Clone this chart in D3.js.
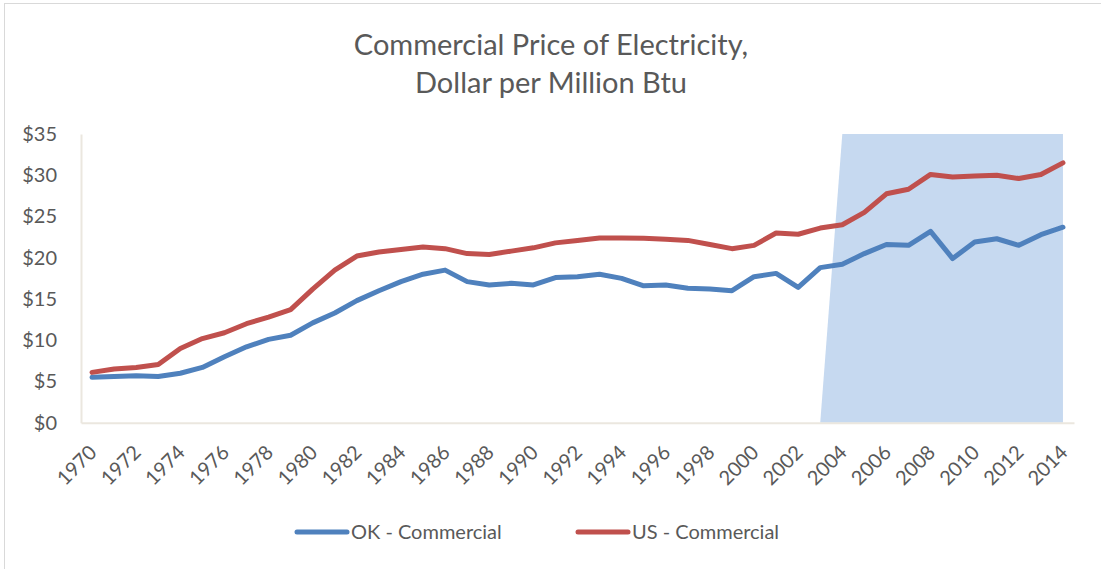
<!DOCTYPE html>
<html>
<head>
<meta charset="utf-8">
<script src="https://cdn.jsdelivr.net/npm/d3@7"></script>
<style>
  body { margin: 0; background: #fff; }
  svg { display: block; font-family: Lato, "Open Sans", sans-serif; }
</style>
</head>
<body>
<svg id="chart" width="1101" height="569"></svg>
<script>
// years on the category axis
const years = d3.range(1970, 2015);

// OK - Commercial, $ per million Btu
const okCommercial = [
    5.5, 5.6, 5.7, 5.6, 6.0, 6.7, 8.0, 9.2, 10.1, 10.6,
    12.1, 13.3, 14.8, 16.0, 17.1, 18.0, 18.5, 17.1, 16.7, 16.9,
    16.7, 17.6, 17.7, 18.0, 17.5, 16.6, 16.7, 16.3, 16.2, 16.0,
    17.7, 18.1, 16.4, 18.8, 19.2, 20.5, 21.6, 21.5, 23.2, 19.9,
    21.9, 22.3, 21.5, 22.8, 23.7
];

// US - Commercial
const usCommercial = [
    6.1, 6.5, 6.7, 7.05, 9.0, 10.2, 10.9, 12.0, 12.8, 13.7,
    16.2, 18.5, 20.2, 20.7, 21.0, 21.3, 21.1, 20.5, 20.4, 20.8,
    21.2, 21.8, 22.1, 22.4, 22.4, 22.35, 22.25, 22.1, 21.6, 21.1,
    21.5, 23.0, 22.85, 23.6, 24.0, 25.5, 27.75, 28.3, 30.1, 29.8,
    29.9, 30.0, 29.6, 30.1, 31.5
];

// shaded band (area series) from 2004 on
const shade = years.map(y => y < 2004 ? (y === 2003 ? 0 : null) : 35);

const yTicks = [0, 5, 10, 15, 20, 25, 30, 35];
const titleLines = ['Commercial Price of Electricity,', 'Dollar per Million Btu'];
const legendItems = [
    { name: 'OK - Commercial', color: '#4f81bd' },
    { name: 'US - Commercial', color: '#c0504d' },
];

const svg = d3.select('#chart');
const plotL = 81, plotR = 1074, plotT = 134, plotB = 422.7;
const textColor = '#595959';
const axisColor = '#ebe7df';

// outer chart border
svg.append('rect')
    .attr('x', 4.5).attr('y', 3.5).attr('width', 1110).attr('height', 600)
    .attr('fill', 'none').attr('stroke', '#d9d9d9');

const x = d3.scaleBand().domain(years).range([plotL, plotR]);
const xc = yr => x(yr) + x.bandwidth() / 2;
const y = d3.scaleLinear().domain([0, 35]).range([plotB, plotT]);

// title
svg.append('g').selectAll('text').data(titleLines).join('text')
    .attr('x', 551).attr('y', (d, i) => 55 + i * 38)
    .attr('text-anchor', 'middle')
    .attr('font-size', 29).attr('fill', textColor)
    .text(d => d);

// shaded area
const area = d3.area()
    .defined(d => d[1] != null)
    .x(d => xc(d[0])).y0(y(0)).y1(d => y(d[1]));
svg.append('path')
    .datum(years.map((yr, i) => [yr, shade[i]]))
    .attr('fill', '#c6d9f0')
    .attr('d', area);

// axes
const yAxis = svg.append('g')
    .attr('transform', `translate(${plotL},0)`)
    .call(d3.axisLeft(y).tickValues(yTicks).tickSize(0).tickPadding(24).tickFormat(d => '$' + d));
yAxis.select('.domain').attr('stroke', axisColor).attr('stroke-width', 2);
yAxis.selectAll('text').attr('font-size', 20).attr('fill', textColor).attr('font-family', 'Lato, sans-serif');

const xAxis = svg.append('g')
    .attr('transform', `translate(0,${plotB})`)
    .call(d3.axisBottom(x).tickValues(years.filter(d => d % 2 === 0)).tickSize(0));
xAxis.select('.domain').attr('stroke', axisColor).attr('stroke-width', 2);
xAxis.selectAll('text')
    .attr('font-size', 20).attr('fill', textColor).attr('font-family', 'Lato, sans-serif')
    .attr('text-anchor', 'end')
    .attr('dy', null).attr('y', 0)
    .attr('transform', 'translate(6,31) rotate(-45)');

// lines
const line = d3.line().x(d => xc(d[0])).y(d => y(d[1]));
[[okCommercial, legendItems[0].color], [usCommercial, legendItems[1].color]].forEach(([vals, color]) => {
    svg.append('path')
        .datum(years.map((yr, i) => [yr, vals[i]]))
        .attr('fill', 'none').attr('stroke', color)
        .attr('stroke-width', 5).attr('stroke-linejoin', 'round').attr('stroke-linecap', 'round')
        .attr('d', line);
});

// legend
const legendX = [297, 578];
const lg = svg.append('g').selectAll('g').data(legendItems).join('g')
    .attr('transform', (d, i) => `translate(${legendX[i]},532)`);
lg.append('line').attr('x1', 0).attr('x2', 50)
    .attr('stroke', d => d.color).attr('stroke-width', 5).attr('stroke-linecap', 'round');
lg.append('text').attr('x', 54).attr('y', 7)
    .attr('font-size', 20).attr('fill', textColor)
    .text(d => d.name);
</script>
</body>
</html>
